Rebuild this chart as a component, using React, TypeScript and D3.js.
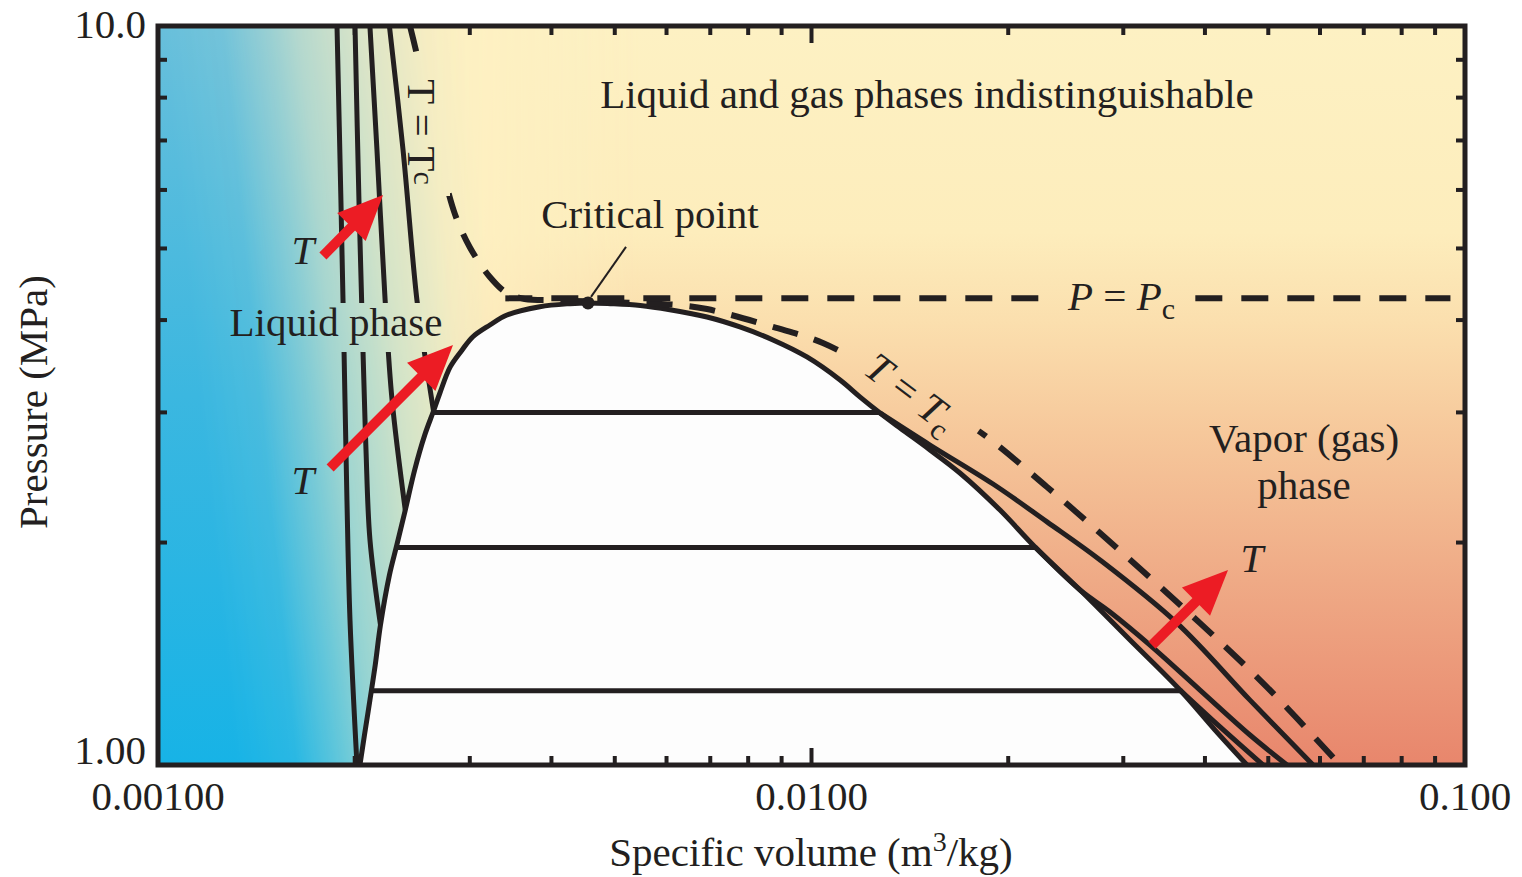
import React from 'react';
import * as d3 from 'd3';

type Pt = [number, number];

// ---------- axes ----------
const xDomain: [number, number] = [0.001, 0.1];
const yDomain: [number, number] = [1, 10];
const xTickValues = [0.001, 0.01, 0.1];
const xTickLabels = ['0.00100', '0.0100', '0.100'];
const yTickValues = [1, 10];
const yTickLabels = ['1.00', '10.0'];
const minorMultipliers = [2, 3, 4, 5, 6, 7, 8, 9];

// ---------- data (specific volume m3/kg, pressure MPa) ----------
const domeLiquid: Pt[] = [
  [0.002037, 1.0], [0.00207, 1.098], [0.00211, 1.224], [0.00215, 1.366], [0.00219, 1.547],
  [0.00226, 1.807], [0.00232, 1.985], [0.00239, 2.213], [0.00247, 2.507], [0.00256, 2.797],
  [0.00264, 3.013], [0.0027, 3.187], [0.0028, 3.457], [0.00292, 3.644], [0.00303, 3.795],
  [0.00322, 3.939], [0.00342, 4.064], [0.00384, 4.17], [0.00427, 4.21], [0.00455, 4.22],
];
const domeVapor: Pt[] = [
  [0.00455, 4.22], [0.00492, 4.21], [0.00547, 4.185], [0.00607, 4.13], [0.00692, 4.038],
  [0.00777, 3.915], [0.00873, 3.76], [0.00984, 3.566], [0.01106, 3.319], [0.01187, 3.147],
  [0.01273, 2.995], [0.01366, 2.858], [0.01518, 2.669], [0.01687, 2.484], [0.01943, 2.213],
  [0.02198, 1.972], [0.02576, 1.725], [0.03072, 1.476], [0.03664, 1.263], [0.04145, 1.115],
  [0.04639, 1.0],
];
const criticalPoint: Pt = [0.00455, 4.22];
const criticalPressure = 4.28;
const pcLineRange: [number, number] = [0.0034, 0.095];

const tiePressures = [3.0, 1.97, 1.26];
const tieLeftV = [0.00264, 0.00232, 0.00211];
const tieRightV = [0.01273, 0.02198, 0.03664];

const liquidIso1: Pt[] = [[0.001879, 10], [0.001905, 5.81], [0.001926, 3.64], [0.001946, 2.28], [0.001967, 1.57], [0.002016, 1.0]];
const liquidIso2: Pt[] = [[0.002002, 10], [0.00203, 5.81], [0.002059, 3.64], [0.002081, 2.67], [0.00211, 2.02], [0.00219, 1.547]];
const liquidIso3: Pt[] = [[0.00211, 10], [0.002163, 6.8], [0.002226, 4.26], [0.002281, 3.12], [0.00239, 2.213]];
const liquidIso4: Pt[] = [[0.00226, 10], [0.002371, 6.8], [0.00249, 4.26], [0.00256, 3.59], [0.00264, 3.013]];

const vaporIso4: Pt[] = [[0.01273, 2.995], [0.01518, 2.71], [0.01896, 2.4], [0.02293, 2.133], [0.02764, 1.894], [0.03625, 1.556], [0.04688, 1.224], [0.05854, 1.0]];
const vaporIso3: Pt[] = [[0.02198, 1.972], [0.02576, 1.725], [0.02863, 1.611], [0.03296, 1.453], [0.03931, 1.263], [0.04688, 1.098], [0.05341, 1.0]];
const vaporIso2: Pt[] = [[0.03664, 1.263], [0.04219, 1.126], [0.04908, 1.0]];

const criticalIsotherm: Pt[] = [
  [0.00243, 10], [0.0025, 9.0], [0.00257, 7.94], [0.002654, 7.01], [0.00275, 6.19], [0.00285, 5.55],
  [0.003, 5.02], [0.00322, 4.575], [0.00342, 4.351], [0.00364, 4.272], [0.00405, 4.255], [0.00455, 4.24],
  [0.00509, 4.225], [0.00629, 4.19], [0.00692, 4.14], [0.00873, 3.915], [0.01041, 3.724], [0.01366, 3.267],
  [0.01792, 2.841], [0.02293, 2.378], [0.02764, 2.06], [0.03931, 1.556], [0.04977, 1.275], [0.0644, 1.0],
];

// arrows: [tail, tip] in data coordinates
const arrows: [Pt, Pt][] = [
  [[0.001788, 4.885], [0.00221, 5.906]],
  [[0.001834, 2.523], [0.002828, 3.701]],
  [[0.03319, 1.453], [0.04339, 1.836]],
];

// ---------- layout ----------
const W = 1522, H = 877;
const plot = { left: 158, top: 26, right: 1465, bottom: 765 };
const FONT = "'Liberation Serif', 'Times New Roman', Times, serif";
const INK = '#231f20';
const RED = '#ec1c24';

export default function App() {
  const x = d3.scaleLog().domain(xDomain).range([plot.left, plot.right]);
  const y = d3.scaleLog().domain(yDomain).range([plot.bottom, plot.top]);
  const curve = d3.line<Pt>().x(d => x(d[0])).y(d => y(d[1])).curve(d3.curveCatmullRom.alpha(0.5));
  const straight = d3.line<Pt>().x(d => x(d[0])).y(d => y(d[1]));

  const domeAll: Pt[] = [...domeLiquid, ...domeVapor.slice(1)];
  const domeFill = curve(domeAll) + 'Z';

  const xMinor = minorMultipliers.flatMap(k => [k * 0.001, k * 0.01]);
  const yMinor = minorMultipliers.map(k => k * 1);

  const [cx, cy] = [x(criticalPoint[0]), y(criticalPoint[1])];

  const arrowShapes = arrows.map(([tail, tip], i) => {
    const x0 = x(tail[0]), y0 = y(tail[1]), x1 = x(tip[0]), y1 = y(tip[1]);
    const len = Math.hypot(x1 - x0, y1 - y0);
    const ux = (x1 - x0) / len, uy = (y1 - y0) / len;
    const nx = -uy, ny = ux;
    const hl = 45, hw = 20;
    const bx = x1 - ux * hl, by = y1 - uy * hl;
    return (
      <g key={i}>
        <line x1={x0} y1={y0} x2={bx + ux * 4} y2={by + uy * 4} stroke={RED} strokeWidth={10} />
        <polygon points={`${x1},${y1} ${bx + nx * hw},${by + ny * hw} ${bx - nx * hw},${by - ny * hw}`} fill={RED} />
      </g>
    );
  });

  const txt = { fontFamily: FONT, fill: INK, fontSize: 41 } as const;
  const plotW = plot.right - plot.left, plotH = plot.bottom - plot.top;

  return (
    <svg width={W} height={H} style={{ position: 'absolute', left: 0, top: 0 }} xmlns="http://www.w3.org/2000/svg">
      <defs>
        <clipPath id="plotClip">
          <rect x={plot.left} y={plot.top} width={plotW} height={plotH} />
        </clipPath>
        <linearGradient id="warm" gradientUnits="userSpaceOnUse" x1={0} y1={plot.top} x2={0} y2={plot.bottom}>
          <stop offset="0" stopColor="#fdf1c3" />
          <stop offset="0.28" stopColor="#fdedbc" />
          <stop offset="0.4" stopColor="#fbdfae" />
          <stop offset="0.55" stopColor="#f6c89b" />
          <stop offset="0.75" stopColor="#efaa86" />
          <stop offset="1" stopColor="#e8866c" />
        </linearGradient>
        <linearGradient id="paleFade" gradientUnits="userSpaceOnUse" x1={430} y1={0} x2={640} y2={0}>
          <stop offset="0" stopColor="#fff" stopOpacity={1} />
          <stop offset="1" stopColor="#fff" stopOpacity={0} />
        </linearGradient>
        <mask id="paleMask" maskUnits="userSpaceOnUse" x={0} y={0} width={W} height={H}>
          <rect x={0} y={0} width={W} height={H} fill="url(#paleFade)" />
        </mask>
        <linearGradient id="blue" gradientUnits="userSpaceOnUse" x1={0} y1={plot.top} x2={0} y2={plot.bottom}>
          <stop offset="0" stopColor="#68bfdb" />
          <stop offset="0.5" stopColor="#3bb7e0" />
          <stop offset="1" stopColor="#17b3e6" />
        </linearGradient>
        <linearGradient id="blueFade" gradientUnits="userSpaceOnUse" x1={200} y1={400} x2={498.5} y2={370.2}>
          <stop offset="0" stopColor="#fff" stopOpacity={1} />
          <stop offset="0.2" stopColor="#fff" stopOpacity={0.92} />
          <stop offset="0.333" stopColor="#fff" stopOpacity={0.7} />
          <stop offset="0.45" stopColor="#fff" stopOpacity={0.48} />
          <stop offset="0.667" stopColor="#fff" stopOpacity={0.22} />
          <stop offset="0.867" stopColor="#fff" stopOpacity={0.05} />
          <stop offset="1" stopColor="#fff" stopOpacity={0} />
        </linearGradient>
        <mask id="blueMask" maskUnits="userSpaceOnUse" x={0} y={0} width={W} height={H}>
          <rect x={0} y={0} width={W} height={H} fill="url(#blueFade)" />
        </mask>
        <mask id="dashMask" maskUnits="userSpaceOnUse" x={0} y={0} width={W} height={H}>
          <rect x={0} y={0} width={W} height={H} fill="#fff" />
          <rect x={398} y={58} width={52} height={138} fill="#000" />
          <rect x={-80} y={-20} width={160} height={40} fill="#000" transform="translate(908,392) rotate(36)" />
          <rect x={1052} y={278} width={136} height={42} fill="#000" />
        </mask>
        <mask id="liqMask" maskUnits="userSpaceOnUse" x={0} y={0} width={W} height={H}>
          <rect x={0} y={0} width={W} height={H} fill="#fff" />
          <rect x={226} y={303} width={222} height={49} fill="#000" />
        </mask>
      </defs>

      {/* background */}
      <rect x={plot.left} y={plot.top} width={plotW} height={plotH} fill="url(#warm)" />
      <rect x={plot.left} y={plot.top} width={500} height={plotH} fill="#fdf0c2" mask="url(#paleMask)" />
      <rect x={plot.left} y={plot.top} width={360} height={plotH} fill="url(#blue)" mask="url(#blueMask)" />

      <g clipPath="url(#plotClip)">
        {/* two-phase region */}
        <path d={domeFill} fill="#fdfdfd" />

        {/* tie lines */}
        {tiePressures.map((p, i) => (
          <path key={i} d={straight([[tieLeftV[i], p], [tieRightV[i], p]]) || ''} stroke={INK} strokeWidth={5} fill="none" />
        ))}

        {/* liquid isotherms */}
        <g mask="url(#liqMask)">
          {[liquidIso1, liquidIso2, liquidIso3, liquidIso4].map((d, i) => (
            <path key={i} d={curve(d) || ''} stroke={INK} strokeWidth={5} fill="none" strokeLinejoin="round" />
          ))}
        </g>

        {/* vapor isotherms */}
        {[vaporIso4, vaporIso3, vaporIso2].map((d, i) => (
          <path key={i} d={curve(d) || ''} stroke={INK} strokeWidth={5} fill="none" strokeLinejoin="round" />
        ))}

        {/* saturation dome */}
        <path d={curve(domeAll) || ''} stroke={INK} strokeWidth={5} fill="none" strokeLinejoin="round" />

        {/* dashed critical isotherm and critical pressure */}
        <g mask="url(#dashMask)">
          <path d={curve(criticalIsotherm) || ''} stroke={INK} strokeWidth={6} fill="none" strokeDasharray="26 17" />
          <path d={straight([[pcLineRange[0], criticalPressure], [pcLineRange[1], criticalPressure]]) || ''}
            stroke={INK} strokeWidth={6} fill="none" strokeDasharray="27 19" />
        </g>

        {/* critical point */}
        <circle cx={cx} cy={cy} r={6.5} fill={INK} />
        <line x1={cx + 3} y1={cy - 6} x2={cx + 38} y2={cy - 56} stroke={INK} strokeWidth={2} />

        {/* arrows */}
        {arrowShapes}
      </g>

      {/* annotations */}
      <text {...txt} x={927} y={108} textAnchor="middle">Liquid and gas phases indistinguishable</text>
      <text {...txt} x={650} y={228} textAnchor="middle">Critical point</text>
      <text {...txt} x={336} y={336} textAnchor="middle">Liquid phase</text>
      <text {...txt} x={1304} y={452} textAnchor="middle">Vapor (gas)</text>
      <text {...txt} x={1304} y={499} textAnchor="middle">phase</text>
      <text {...txt} x={303} y={264} textAnchor="middle" fontStyle="italic">T</text>
      <text {...txt} x={303} y={494} textAnchor="middle" fontStyle="italic">T</text>
      <text {...txt} x={1252} y={572} textAnchor="middle" fontStyle="italic">T</text>
      <text {...txt} x={1068} y={310}>
        <tspan fontStyle="italic">P</tspan>
        <tspan> = </tspan>
        <tspan fontStyle="italic">P</tspan>
        <tspan fontSize={30} dy={9}>c</tspan>
      </text>
      <text {...txt} transform="translate(408,132) rotate(90)" textAnchor="middle">
        <tspan>T = T</tspan>
        <tspan fontSize={30} dy={-6}>c</tspan>
      </text>
      <text {...txt} transform="translate(910,394) rotate(37)" textAnchor="middle" dy={12}>
        <tspan fontStyle="italic">T</tspan>
        <tspan> = </tspan>
        <tspan fontStyle="italic">T</tspan>
        <tspan fontSize={30} dy={9}>c</tspan>
      </text>

      {/* frame */}
      <rect x={plot.left} y={plot.top} width={plotW} height={plotH} fill="none" stroke={INK} strokeWidth={5} />

      {/* ticks */}
      {xMinor.map((v, i) => (
        <g key={'xm' + i}>
          <line x1={x(v)} x2={x(v)} y1={plot.bottom} y2={plot.bottom - 9} stroke={INK} strokeWidth={4} />
          <line x1={x(v)} x2={x(v)} y1={plot.top} y2={plot.top + 9} stroke={INK} strokeWidth={4} />
        </g>
      ))}
      {xTickValues.slice(1, -1).map((v, i) => (
        <g key={'xM' + i}>
          <line x1={x(v)} x2={x(v)} y1={plot.bottom} y2={plot.bottom - 17} stroke={INK} strokeWidth={4} />
          <line x1={x(v)} x2={x(v)} y1={plot.top} y2={plot.top + 17} stroke={INK} strokeWidth={4} />
        </g>
      ))}
      {yMinor.map((v, i) => (
        <g key={'ym' + i}>
          <line x1={plot.left} x2={plot.left + 9} y1={y(v)} y2={y(v)} stroke={INK} strokeWidth={4} />
          <line x1={plot.right} x2={plot.right - 9} y1={y(v)} y2={y(v)} stroke={INK} strokeWidth={4} />
        </g>
      ))}

      {/* tick labels */}
      {xTickValues.map((v, i) => (
        <text key={'xl' + i} {...txt} x={x(v)} y={810} textAnchor="middle">{xTickLabels[i]}</text>
      ))}
      {yTickValues.map((v, i) => (
        <text key={'yl' + i} {...txt} x={146} y={i === 0 ? y(v) - 1 : y(v) + 12} textAnchor="end">{yTickLabels[i]}</text>
      ))}

      {/* axis titles */}
      <text {...txt} x={811} y={866} textAnchor="middle">
        <tspan>Specific volume (m</tspan>
        <tspan fontSize={28} dy={-15}>3</tspan>
        <tspan dy={15}>/kg)</tspan>
      </text>
      <text {...txt} transform="translate(47,402) rotate(-90)" textAnchor="middle">Pressure (MPa)</text>
    </svg>
  );
}
